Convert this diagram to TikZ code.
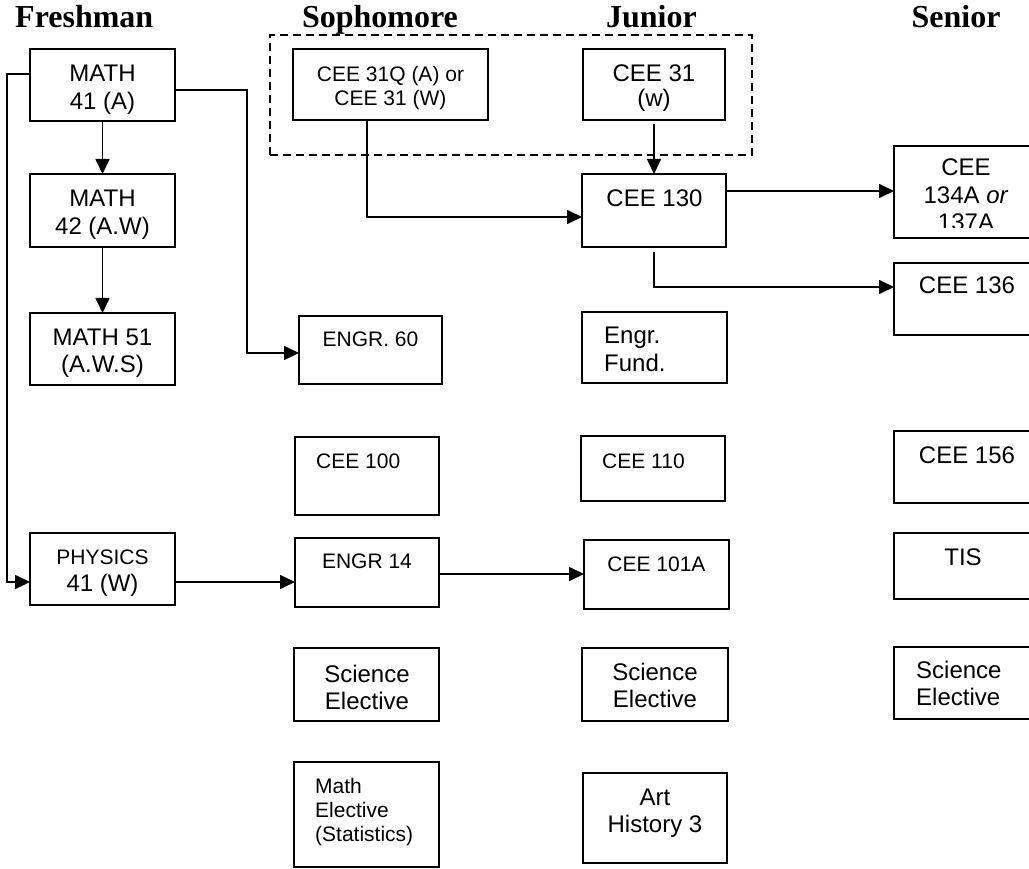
\documentclass[tikz,border=0pt]{standalone}
\usepackage{fontspec}
\setmainfont{Liberation Sans}
\newfontfamily\hdrfont{Liberation Serif}
\usetikzlibrary{arrows.meta,calc}
\newcommand\bx[5]{\node[box, minimum width={(#4-#2)*1pt}, minimum height={(#5-#3)*1pt}] (#1) at ({(#2+#4)/2},{(#3+#5)/2}) {};}
\newcommand\ct[5]{\node[#2] (#1) at (#3,#4) {\begin{tabular}[t]{@{}c@{}}#5\end{tabular}};}
\newcommand\lt[5]{\node[#2, anchor=base west] (#1) at (#3,#4) {\begin{tabular}[t]{@{}l@{}}#5\end{tabular}};}
\begin{document}
\begin{tikzpicture}[x=1pt,y=-1pt,
  box/.style={draw, line width=2pt, inner sep=0pt, outer sep=0pt},
  dashbox/.style={draw, line width=1.6pt, dash pattern=on 8pt off 5pt, inner sep=0pt, outer sep=0pt},
  txt/.style={inner sep=0pt, anchor=base, font=\fontsize{24}{27.5}\selectfont},
  stxt/.style={txt, font=\fontsize{21}{24}\selectfont},
  hdr/.style={inner sep=0pt, anchor=base, font=\hdrfont\bfseries\fontsize{32}{36}\selectfont},
  arr/.style={line width=1.7pt, -{Triangle[length=15pt,width=14pt]}}]
\useasboundingbox (0,0) rectangle (1029,869);
% headers
\node[hdr, anchor=base west] (hfr) at (15,28) {Freshman};
\node[hdr] (hso) at (380,28) {Sophomore};
\node[hdr] (hju) at (651.5,28) {Junior};
\node[hdr] (hse) at (956,28) {Senior};
% dashed group
\node[dashbox, minimum width=482pt, minimum height=120pt] (grp) at (511,95) {};
% boxes
\bx{m41}{30}{49}{175}{121}
\bx{m42}{30}{174}{175}{247}
\bx{m51}{30}{313}{175}{385}
\bx{phys}{30}{533}{175}{605}
\bx{c31q}{293}{49}{488}{120}
\bx{e60}{299}{316}{442}{384}
\bx{c100}{295}{437}{439}{515}
\bx{e14}{295}{538}{439}{607}
\bx{sse}{294}{648}{439}{721}
\bx{mel}{294}{762}{439}{867}
\bx{c31w}{583}{49}{725}{120}
\bx{c130}{582}{174}{726}{247}
\bx{ef}{582}{312}{727}{383}
\bx{c110}{581}{436}{725}{501}
\bx{c101}{584}{540}{729}{609}
\bx{jse}{582}{648}{728}{721}
\bx{art}{583}{773}{727}{863}
\bx{c134}{894}{146}{1040}{238}
\bx{c136}{894}{263}{1040}{335}
\bx{c156}{894}{431}{1040}{503}
\bx{tis}{894}{533}{1040}{599}
\bx{snse}{894}{647}{1040}{719}
% texts
\ct{tm41}{txt}{102.5}{82}{MATH\\41 (A)}
\ct{tm42}{txt}{102.5}{207}{MATH\\42 (A.W)}
\ct{tm51}{txt}{102.5}{345}{MATH 51\\(A.W.S)}
\ct{tphys}{txt}{102.5}{564}{{\fontsize{21}{24}\selectfont PHYSICS}\\41 (W)}
\ct{tc31q}{stxt}{390.5}{82}{CEE 31Q (A) or\\CEE 31 (W)}
\ct{te60}{stxt}{370.5}{347}{ENGR. 60}
\lt{tc100}{stxt}{316}{468}{CEE 100}
\ct{te14}{stxt}{367}{568}{ENGR 14}
\ct{tsse}{txt}{367}{682}{Science\\Elective}
\lt{tmel}{stxt}{315}{793}{Math\\Elective\\(Statistics)}
\ct{tc31w}{txt}{654}{82}{CEE 31\\[-3pt](w)}
\ct{tc130}{txt}{654.5}{207}{CEE 130}
\lt{tef}{txt}{604}{344}{Engr.\\Fund.}
\lt{tc110}{stxt}{602}{468}{CEE 110}
\ct{tc101}{stxt}{656.5}{571}{CEE 101A}
\ct{tjse}{txt}{655}{680}{Science\\Elective}
\ct{tart}{txt}{655}{805}{Art\\History 3}
\begin{scope}
\clip (894,146) rectangle (1040,228);
\ct{tc134}{txt}{966}{176}{CEE\\134A \textit{or}\\137A}
\end{scope}
\ct{tc136}{txt}{967}{294}{CEE 136}
\ct{tc156}{txt}{967}{463}{CEE 156}
\ct{ttis}{txt}{963}{565}{TIS}
\lt{tsnse}{txt}{916}{678}{Science\\Elective}
% connectors
\draw[arr] (m41) -- (m42);
\draw[arr] (m42) -- (m51);
\draw[arr] ([yshift=11pt]m41.west) -- ++(-23,0) |- ([yshift=-13pt]phys.west);
\draw[arr] ([yshift=-5pt]m41.east) -| ([xshift=-52pt,yshift=-3pt]e60.west) -- ([yshift=-3pt]e60.west);
\draw[arr] ([yshift=-13pt]phys.east) -- ([yshift=-13pt]phys.east -| e14.west);
\draw[arr] ([yshift=-1.5pt]e14.east) -- ([yshift=-1.5pt]e14.east -| c101.west);
\draw[arr] ([xshift=-23.5pt]c31q.south) |- ([yshift=-6.5pt]c130.west);
\draw[arr] ([yshift=-4pt]c31w.south) -- (c130.north);
\draw[arr] ([yshift=19.5pt]c130.east) -- ([yshift=19.5pt]c130.east -| c134.west);
\draw[arr] ([yshift=-5pt]c130.south) |- ([yshift=12pt]c136.west);
\end{tikzpicture}
\end{document}
